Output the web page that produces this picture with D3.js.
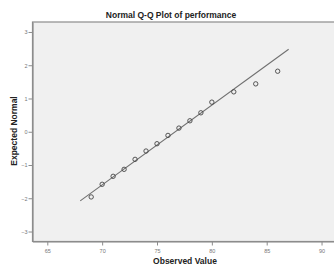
<!DOCTYPE html>
<html>
<head>
<meta charset="utf-8">
<script src="https://cdn.jsdelivr.net/npm/d3@7"></script>
<style>
  body { margin: 0; background: #fff; overflow: hidden; }
  text { font-family: "Liberation Sans", Arial, sans-serif; }
</style>
</head>
<body>
<div id="chart"></div>
<script>
// observed values and their expected normal scores
const observed = [69, 70, 71, 72, 73, 74, 75, 76, 77, 78, 79, 80, 82, 84, 86];
const expected = [-1.96, -1.58, -1.34, -1.13, -0.83, -0.58, -0.36, -0.11, 0.11, 0.33, 0.57, 0.89, 1.20, 1.44, 1.82];
// reference line ends
const lineX = [68, 87];
const lineY = [-2.08, 2.48];
const xTicks = [65, 70, 75, 80, 85, 90];
const yTicks = [-3, -2, -1, 0, 1, 2, 3];

const w = 334, h = 266;
const margin = { top: 22, right: -4, bottom: 24.5, left: 32.5 };

const svg = d3.select("#chart").append("svg").attr("width", w).attr("height", h);

const xScale = d3.scaleLinear().domain([63.65, 91.5]).range([margin.left, w - margin.right]);
const yScale = d3.scaleLinear().domain([-3.3, 3.3]).range([h - margin.bottom, margin.top]);

svg.append("rect")
  .attr("x", margin.left).attr("y", margin.top)
  .attr("width", w - margin.right - margin.left)
  .attr("height", h - margin.bottom - margin.top)
  .attr("fill", "#f0f0f0")
  .attr("stroke", "#8c8c8c")
  .attr("stroke-width", 1.2);

const xAxis = d3.axisBottom(xScale).tickValues(xTicks).tickFormat(d3.format("d")).tickSize(4).tickSizeOuter(0);
const yAxis = d3.axisLeft(yScale).tickValues(yTicks).tickFormat(d3.format("d")).tickSize(4).tickSizeOuter(0);

const gx = svg.append("g")
  .attr("transform", `translate(0, ${h - margin.bottom})`)
  .call(xAxis);
const gy = svg.append("g")
  .attr("transform", `translate(${margin.left}, 0)`)
  .call(yAxis);

[gx, gy].forEach(g => {
  g.select(".domain").attr("stroke", "#8c8c8c").attr("stroke-width", 1.2);
  g.selectAll(".tick line").attr("stroke", "#8c8c8c");
  g.selectAll(".tick text").attr("fill", "#777").style("font-size", "5.5px");
});
gx.selectAll(".tick text").attr("dy", "0.9em");
gy.selectAll(".tick text").attr("x", -5);

svg.append("line")
  .attr("x1", xScale(lineX[0])).attr("y1", yScale(lineY[0]))
  .attr("x2", xScale(lineX[1])).attr("y2", yScale(lineY[1]))
  .attr("stroke", "#707070")
  .attr("stroke-width", 1.1);

svg.selectAll("circle")
  .data(observed)
  .enter()
  .append("circle")
  .attr("cx", (d) => xScale(d))
  .attr("cy", (d, i) => yScale(expected[i]))
  .attr("r", 2.2)
  .attr("fill", "none")
  .attr("stroke", "#444")
  .attr("stroke-width", 0.9);

svg.append("text")
  .attr("x", 171).attr("y", 18)
  .attr("text-anchor", "middle")
  .style("font-size", "8.5px").style("font-weight", "bold")
  .attr("fill", "#222")
  .text("Normal Q-Q Plot of performance");

svg.append("text")
  .attr("x", 185).attr("y", 264)
  .attr("text-anchor", "middle")
  .style("font-size", "8.5px").style("font-weight", "bold")
  .attr("fill", "#222")
  .text("Observed Value");

svg.append("text")
  .attr("transform", "translate(16.5, 131) rotate(-90)")
  .attr("text-anchor", "middle")
  .style("font-size", "8.5px").style("font-weight", "bold")
  .attr("fill", "#222")
  .text("Expected Normal");
</script>
</body>
</html>
